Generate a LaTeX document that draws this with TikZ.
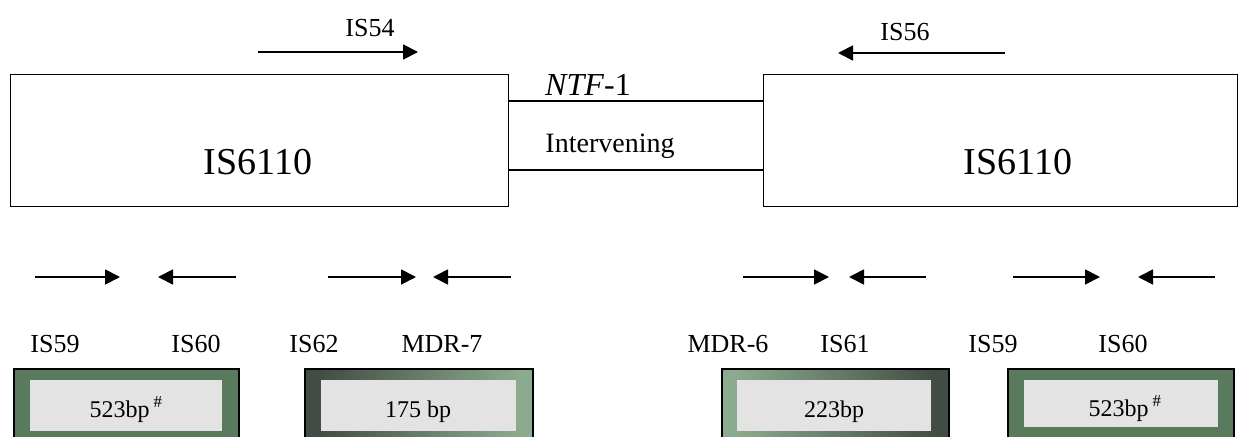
\documentclass[tikz,border=0pt]{standalone}
\usepackage{fontspec}
\setmainfont{Liberation Serif}
\usetikzlibrary{arrows.meta}

\definecolor{framegreen}{HTML}{5A7A5E}
\definecolor{darkgreen}{HTML}{414D42}
\definecolor{lightgreen}{HTML}{8CAA8E}
\definecolor{innergray}{HTML}{E3E3E3}

% green frames with a gradient: dark to light, and light to dark
\pgfdeclarehorizontalshading{darktolight}{100bp}{color(0bp)=(darkgreen); color(28bp)=(darkgreen); color(72bp)=(lightgreen); color(100bp)=(lightgreen)}
\pgfdeclarehorizontalshading{lighttodark}{100bp}{color(0bp)=(lightgreen); color(28bp)=(lightgreen); color(72bp)=(darkgreen); color(100bp)=(darkgreen)}

\tikzset{
  isbox/.style={draw, line width=1.4pt, fill=white, inner sep=0pt, anchor=north west},
  bigtext/.style={font=\fontsize{38}{40}\selectfont, inner sep=0pt},
  midtext/.style={font=\fontsize{28}{30}\selectfont, inner sep=0pt},
  lab/.style={font=\fontsize{26}{28}\selectfont, inner sep=0pt, anchor=base},
  primer/.style={line width=1.8pt, -{Triangle[length=15pt,width=15pt]}},
  gframe/.style={draw, line width=1.5pt, inner sep=0pt, anchor=north west, minimum height=80pt},
  gray/.style={fill=innergray, inner sep=0pt, anchor=north west, minimum height=51pt},
  bp/.style={font=\fontsize{24}{26}\selectfont, inner sep=0pt, anchor=base},
}

\begin{document}
\begin{tikzpicture}[x=1pt,y=-1pt]
\useasboundingbox (0,0) rectangle (1249,436);
\begin{scope}
\clip (0,0) rectangle (1249,436);

% IS6110 elements and the intervening region
\node[isbox, minimum width=498pt, minimum height=132pt] (left) at (10,74) {};
\node[isbox, minimum width=474pt, minimum height=132pt] (right) at (763,74) {};
\node[bigtext] (lefttext) at (258,162) {IS6110};
\node[bigtext] (righttext) at (1018,162) {IS6110};

\coordinate (topl) at (left.east |- 0,101);
\coordinate (topr) at (right.west |- 0,101);
\coordinate (botl) at (left.east |- 0,170);
\coordinate (botr) at (right.west |- 0,170);
\draw[line width=1.4pt] (topl) -- (topr);
\draw[line width=1.4pt] (botl) -- (botr);
\node[font=\fontsize{32}{34}\selectfont, inner sep=0pt, anchor=base] (ntf) at (588,95) {\textit{NTF}-1};
\node[midtext, anchor=base] (interv) at (610,152) {Intervening};

% outer primers
\coordinate (s54) at (258,52); \coordinate (e54) at (418,52);
\draw[primer] (s54) -- (e54);
\node[lab] (is54) at (370,37) {IS54};
\coordinate (s56) at (1005,53); \coordinate (e56) at (838,53);
\draw[primer] (s56) -- (e56);
\node[lab] (is56) at (905,41) {IS56};

% inner primer pairs
\foreach \n/\a/\b in {1/35/120, 2/236/158, 3/328/416, 4/511/433,
                      5/743/829, 6/926/849, 7/1013/1100, 8/1215/1138}{
  \coordinate (ps\n) at (\a,277);
  \coordinate (pe\n) at (\b,277);
  \draw[primer] (ps\n) -- (pe\n);
}

% primer names
\node[lab] (n1) at (55,352) {IS59};
\node[lab] (n2) at (196,352) {IS60};
\node[lab] (n3) at (314,352) {IS62};
\node[lab] (n4) at (442,352) {MDR-7};
\node[lab] (n5) at (728,352) {MDR-6};
\node[lab] (n6) at (845,352) {IS61};
\node[lab] (n7) at (993,352) {IS59};
\node[lab] (n8) at (1123,352) {IS60};

% amplicon boxes
\node[gframe, fill=framegreen, minimum width=225pt] (g1) at (13,368) {};
\node[gray, minimum width=192pt] (i1) at (30,380) {};
\node[bp] (b1) at (126,417) {523bp\,\textsuperscript{\#}};

\node[gframe, shading=darktolight, minimum width=228pt] (g2) at (304,368) {};
\node[gray, minimum width=195pt] (i2) at (321,380) {};
\node[bp] (b2) at (418,417) {175 bp};

\node[gframe, shading=lighttodark, minimum width=227pt] (g3) at (721,368) {};
\node[gray, minimum width=194pt] (i3) at (737,380) {};
\node[bp] (b3) at (834,417) {223bp};

\node[gframe, fill=framegreen, minimum width=226pt] (g4) at (1007,368) {};
\node[gray, minimum width=194pt, minimum height=47pt] (i4) at (1024,380) {};
\node[bp] (b4) at (1125,416) {523bp\,\textsuperscript{\#}};
\end{scope}
\end{tikzpicture}
\end{document}
